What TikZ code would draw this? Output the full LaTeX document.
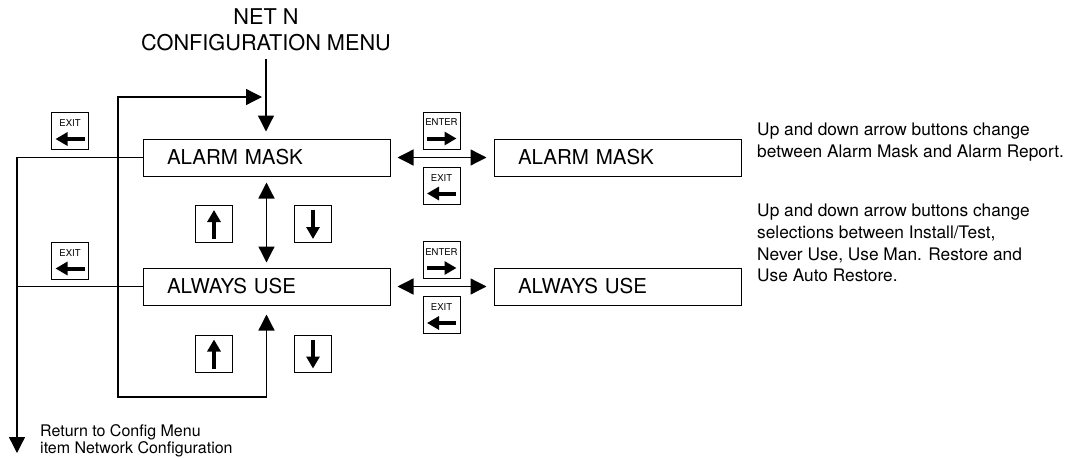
\documentclass[tikz,border=0pt]{standalone}
\usepackage{fontspec}
\setmainfont{TeX Gyre Heros}
\usetikzlibrary{arrows.meta}
\begin{document}
\begin{tikzpicture}[x=1pt,y=-1pt,
  menubox/.style={draw, line width=1pt, minimum width=247pt, minimum height=37pt,
     inner xsep=24pt, text width=199pt, align=left, font=\fontsize{20.5}{24}\selectfont},
  btn/.style={draw, line width=0.9pt, minimum width=37pt, minimum height=37pt, inner sep=0pt},
  btnlbl/.style={inner sep=0pt, font=\fontsize{9.5}{10}\selectfont},
  icon/.style={line width=4pt, -{Triangle[length=12pt,width=13pt]}},
  arr/.style={line width=1.3pt, -{Triangle[length=16pt,width=16pt]}},
  both/.style={line width=1.3pt, {Triangle[length=16pt,width=16pt]}-{Triangle[length=16pt,width=16pt]}},
  note/.style={inner sep=0pt, anchor=north west, align=left, font=\fontsize{17.3}{21.7}\selectfont}
]
\useasboundingbox (0,0) rectangle (1069,458);

\newcommand{\myexitbtn}[3]{%
  \node[btn] (#1) at (#2,#3) {};
  \node[btnlbl] (#1t) at ([shift={(0,-7.5)}]#1.center) {EXIT};
  \draw[icon] ([shift={(14.5,8)}]#1.center) -- ([shift={(-14.5,8)}]#1.center);}
\newcommand{\myenterbtn}[3]{%
  \node[btn] (#1) at (#2,#3) {};
  \node[btnlbl] (#1t) at ([shift={(0,-8)}]#1.center) {ENTER};
  \draw[icon] ([shift={(-14.5,8)}]#1.center) -- ([shift={(15,8)}]#1.center);}
\newcommand{\myupbtn}[3]{%
  \node[btn] (#1) at (#2,#3) {};
  \draw[icon] ([shift={(0,15)}]#1.center) -- ([shift={(0,-14)}]#1.center);}
\newcommand{\mydnbtn}[3]{%
  \node[btn] (#1) at (#2,#3) {};
  \draw[icon] ([shift={(0,-14)}]#1.center) -- ([shift={(0,15)}]#1.center);}

% title
\node[align=center, inner sep=0pt, font=\fontsize{21.7}{26}\selectfont] (title) at (266,30)
  {NET N\\CONFIGURATION MENU};

% menu boxes
\node[menubox] (b1) at (266.5,157.5) {ALARM MASK};
\node[menubox] (b2) at (617.5,157.5) {ALARM MASK};
\node[menubox] (b3) at (266.5,286.5) {ALWAYS USE};
\node[menubox] (b4) at (617.5,286.5) {ALWAYS USE};

% notes
\node[note] (n1) at (757,123) {Up and down arrow buttons change\\between Alarm Mask and Alarm Report.};
\node[note] (n2) at (757,204) {Up and down arrow buttons change\\selections between Install/Test,\\Never Use, Use Man. Restore and\\Use Auto Restore.};
\node[inner sep=0pt, anchor=north west, align=left, font=\fontsize{16}{17}\selectfont] (ret)
  at (40,424) {Return to Config Menu\\item Network Configuration};

% buttons
\myexitbtn{ex1}{70}{131}
\myexitbtn{ex2}{70}{260.5}
\myenterbtn{en1}{441.5}{130.5}
\myexitbtn{ex3}{441.5}{185.5}
\myenterbtn{en2}{441.5}{260}
\myexitbtn{ex4}{441.5}{315}
\myupbtn{up1}{214}{224}
\mydnbtn{dn1}{313}{224}
\myupbtn{up2}{214}{353.5}
\mydnbtn{dn2}{313}{353.5}

% connectors
\coordinate (tin) at (266,59);
\draw[arr, shorten >=7pt] (tin) -- (b1.north -| tin);

\coordinate (lt) at (262,97);
\coordinate (lb) at (118,397);
\draw[both, shorten >=9pt] (lt) -| (lb) -| (b3.south);

\draw[both, shorten <=6pt, shorten >=5pt] (b1.south) -- (b3.north);

\draw[both, shorten <=7pt, shorten >=7pt] (b1.east) -- (b2.west);
\draw[both, shorten <=7pt, shorten >=7pt] (b3.east) -- (b4.west);

\coordinate (rend) at (17,453);
\draw[arr] (b1.west) -| (rend);
\draw[line width=1.3pt] (b3.west) -- (b3.west -| rend);
\end{tikzpicture}
\end{document}
